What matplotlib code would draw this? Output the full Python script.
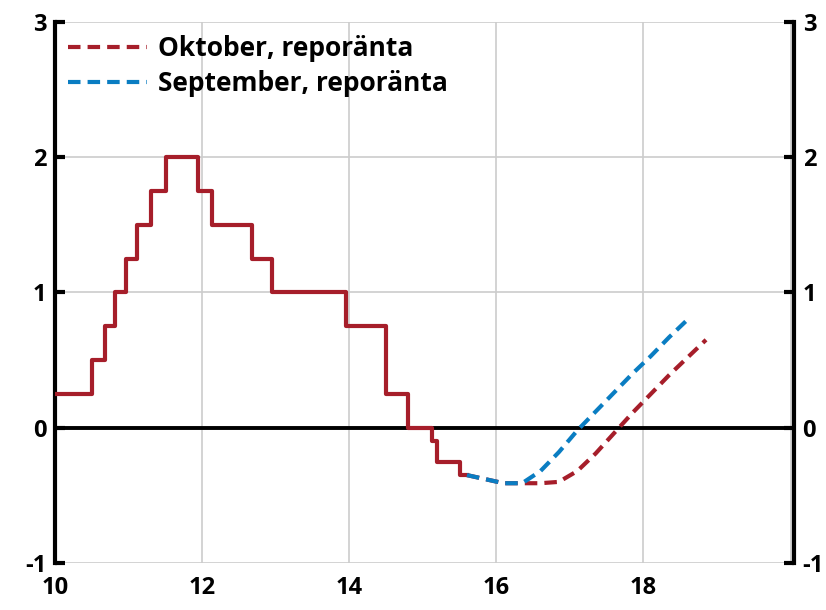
import matplotlib
matplotlib.use("Agg")
import matplotlib.pyplot as plt
from matplotlib.ticker import MultipleLocator

plt.rcParams['font.family'] = ['Open Sans', 'DejaVu Sans']
plt.rcParams['font.weight'] = 'bold'
plt.rcParams['axes.unicode_minus'] = False

# Repo rate outcome (step changes), year axis 10 = 2010
step_x = [10.0, 10.5, 10.68, 10.82, 10.97, 11.12, 11.31, 11.51, 11.95, 12.13,
          12.68, 12.95, 13.95, 14.5, 14.8, 15.12, 15.19, 15.5, 15.6]
step_y = [0.25, 0.5, 0.75, 1.0, 1.25, 1.5, 1.75, 2.0, 1.75, 1.5,
          1.25, 1.0, 0.75, 0.25, 0.0, -0.1, -0.25, -0.35, -0.35]

# Forecasts
okt_x = [15.6, 15.85, 16.1, 16.35, 16.6, 16.85, 17.1, 17.35, 17.6, 17.85, 18.1, 18.35, 18.6, 18.85]
okt_y = [-0.35, -0.38, -0.41, -0.41, -0.41, -0.40, -0.32, -0.19, -0.04, 0.11, 0.25, 0.39, 0.52, 0.65]
sep_x = [15.6, 15.85, 16.1, 16.35, 16.6, 16.85, 17.1, 17.35, 17.6, 17.85, 18.1, 18.35, 18.6]
sep_y = [-0.35, -0.38, -0.41, -0.41, -0.32, -0.18, -0.02, 0.12, 0.26, 0.40, 0.53, 0.67, 0.80]

red = '#A61E2A'
blue = '#0A7DC2'

fig = plt.figure(figsize=(8.26, 6.10), dpi=100)
ax = fig.add_axes([0.0666, 0.077, 0.895, 0.887])

ax.grid(True, color='#cccccc', linewidth=1.2)
ax.set_axisbelow(True)
ax.axhline(0, color='black', linewidth=2.8, zorder=2)

ax.step(step_x, step_y, where='post', color=red, linewidth=3.0, zorder=3)
ax.plot(okt_x, okt_y, color=red, linewidth=3.0, dashes=(3, 1.7), zorder=3,
        label='Oktober, reporänta')
ax.plot(sep_x, sep_y, color=blue, linewidth=3.0, dashes=(3, 1.7), zorder=4,
        label='September, reporänta')

ax.set_xlim(10, 20.05)
ax.set_ylim(-1, 3)
ax.yaxis.set_major_locator(MultipleLocator(1))
ax.set_xticks([10, 12, 14, 16, 18, 20])
ax.set_xticklabels(['10', '12', '14', '16', '18', ''])

for s in ['top', 'bottom']:
    ax.spines[s].set_visible(False)
for s in ['left', 'right']:
    ax.spines[s].set_linewidth(3)
    ax.spines[s].set_color('black')

ax.tick_params(axis='y', which='both', direction='in', length=7, width=3,
               left=True, right=True, labelleft=True, labelright=True,
               labelsize=17, pad=6)
ax.tick_params(axis='x', length=0, labelsize=17, pad=9)

leg = ax.legend(loc='upper left', frameon=False, fontsize=19, handlelength=3.0,
                handletextpad=0.4, labelspacing=0.3, borderaxespad=0.2,
                borderpad=0.3, bbox_to_anchor=(0.0, 1.0))

fig.savefig('out.png', dpi=100)
